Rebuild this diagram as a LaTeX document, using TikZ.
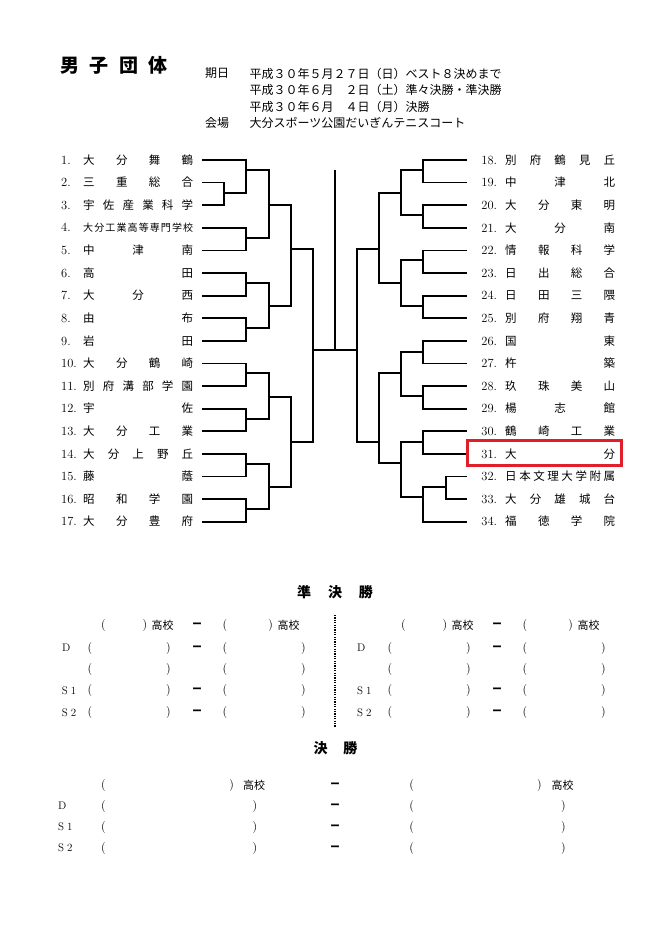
\documentclass[tikz,border=0pt]{standalone}
\usepackage{fontspec}
\newfontfamily\jp{Noto Sans CJK JP}
\definecolor{hlred}{RGB}{226,30,40}
\tikzset{
  team/.style={inner sep=0pt, font=\fontsize{11.5}{12}\selectfont},
  brk/.style={line width=1.8pt},
  cell/.style={inner sep=0pt, font=\fontsize{12}{12}\selectfont},
  lab/.style={inner sep=0pt, anchor=west, font=\fontsize{11}{12}\selectfont},
  kcell/.style={inner sep=0pt, font=\jp\fontsize{11}{12}\selectfont},
  dcell/.style={inner sep=0pt, font=\jp\bfseries\fontsize{9.5}{12}\selectfont},
  ttl/.style={inner sep=0pt, font=\jp\bfseries\fontsize{14}{14}\selectfont},
  hdr/.style={inner sep=0pt, anchor=west, font=\jp\fontsize{12}{12}\selectfont},
  hlbox/.style={draw=hlred, line width=3pt},
  dotline/.style={line width=2pt, dash pattern=on 1.2pt off 1.2pt},
}
\newcommand\numf{\fontsize{12.5}{12}\selectfont}
\newcommand\lteam[3]{\node[team,anchor=west] (t#1) at (61,#2) {\makebox[22pt][l]{\numf #1.}\makebox[110pt][s]{\jp #3}\kern8.7pt};}
\newcommand\rteam[3]{\node[team,anchor=west] (t#1) at (466.7,#2) {\kern14.5pt\makebox[23.8pt][l]{\numf #1.}\makebox[110pt][s]{\jp #3}};}
\newcommand\srow[4]{% name, offset, y, dash(1/0)
  \node[cell] (#1a) at (90+#2,#3) {(};
  \node[cell] (#1b) at (168.3+#2,#3) {)};
  \node[cell] (#1c) at (225+#2,#3) {(};
  \node[cell] (#1d) at (303.3+#2,#3) {)};
  \ifnum#4=1 \node[dcell] (#1m) at (197+#2,#3) {ー};\fi}
\newcommand\shead[2]{% name, offset
  \node[cell] (#1a) at (103.3+#2,625.5) {(};
  \node[cell] (#1b) at (145+#2,625.5) {)};
  \node[kcell] (#1k) at (162.5+#2,625.5) {高校};
  \node[dcell] (#1m) at (197+#2,625.5) {ー};
  \node[cell] (#1c) at (225+#2,625.5) {(};
  \node[cell] (#1d) at (270.7+#2,625.5) {)};
  \node[kcell] (#1l) at (288.5+#2,625.5) {高校};}
\newcommand\frow[2]{% name, y
  \node[cell] (#1a) at (103.3,#2) {(};
  \node[cell] (#1b) at (255,#2) {)};
  \node[dcell] (#1m) at (335,#2) {ー};
  \node[cell] (#1c) at (411.7,#2) {(};
  \node[cell] (#1d) at (563.3,#2) {)};}
\begin{document}
\begin{tikzpicture}[x=1pt,y=-1pt]
\useasboundingbox[fill=white] (0,0) rectangle (670,952);

% title and header
\node[inner sep=0pt, anchor=west, font=\jp\bfseries\fontsize{19}{19}\selectfont] (title) at (60,65) {男\hspace{10.5pt}子\hspace{10.5pt}団\hspace{10.5pt}体};
\node[hdr] (kijitsu) at (205,73.5) {期日};
\node[hdr] (d1) at (249.3,73.5) {平成３０年５月２７日（日）ベスト８決めまで};
\node[hdr] (d2) at (249.3,90) {平成３０年６月　２日（土）準々決勝・準決勝};
\node[hdr] (d3) at (249.3,106.5) {平成３０年６月　４日（月）決勝};
\node[hdr] (kaijo) at (205,123) {会場};
\node[hdr] (venue) at (249.3,123) {大分スポーツ公園だいぎんテニスコート};

% left teams
\lteam{1}{160}{大\hfill 分\hfill 舞\hfill 鶴}
\lteam{2}{182.6}{三\hfill 重\hfill 総\hfill 合}
\lteam{3}{205.2}{宇\hfill 佐\hfill 産\hfill 業\hfill 科\hfill 学}
\lteam{4}{227.8}{\fontsize{10}{12}\selectfont 大\hfill 分\hfill 工\hfill 業\hfill 高\hfill 等\hfill 専\hfill 門\hfill 学\hfill 校}
\lteam{5}{250.4}{中\hfill 津\hfill 南}
\lteam{6}{273}{高\hfill 田}
\lteam{7}{295.6}{大\hfill 分\hfill 西}
\lteam{8}{318.2}{由\hfill 布}
\lteam{9}{340.8}{岩\hfill 田}
\lteam{10}{363.4}{大\hfill 分\hfill 鶴\hfill 崎}
\lteam{11}{386}{別\hfill 府\hfill 溝\hfill 部\hfill 学\hfill 園}
\lteam{12}{408.6}{宇\hfill 佐}
\lteam{13}{431.2}{大\hfill 分\hfill 工\hfill 業}
\lteam{14}{453.8}{大\hfill 分\hfill 上\hfill 野\hfill 丘}
\lteam{15}{476.4}{藤\hfill 蔭}
\lteam{16}{499}{昭\hfill 和\hfill 学\hfill 園}
\lteam{17}{521.6}{大\hfill 分\hfill 豊\hfill 府}

% right teams
\rteam{18}{160}{別\hfill 府\hfill 鶴\hfill 見\hfill 丘}
\rteam{19}{182.6}{中\hfill 津\hfill 北}
\rteam{20}{205.2}{大\hfill 分\hfill 東\hfill 明}
\rteam{21}{227.8}{大\hfill 分\hfill 南}
\rteam{22}{250.4}{情\hfill 報\hfill 科\hfill 学}
\rteam{23}{273}{日\hfill 出\hfill 総\hfill 合}
\rteam{24}{295.6}{日\hfill 田\hfill 三\hfill 隈}
\rteam{25}{318.2}{別\hfill 府\hfill 翔\hfill 青}
\rteam{26}{340.8}{国\hfill 東}
\rteam{27}{363.4}{杵\hfill 築}
\rteam{28}{386}{玖\hfill 珠\hfill 美\hfill 山}
\rteam{29}{408.6}{楊\hfill 志\hfill 館}
\rteam{30}{431.2}{鶴\hfill 崎\hfill 工\hfill 業}
\rteam{31}{453.8}{大\hfill 分}
\rteam{32}{476.4}{日\hfill 本\hfill 文\hfill 理\hfill 大\hfill 学\hfill 附\hfill 属}
\rteam{33}{499}{大\hfill 分\hfill 雄\hfill 城\hfill 台}
\rteam{34}{521.6}{福\hfill 徳\hfill 学\hfill 院}

% left bracket junctions
\coordinate (J23) at (224,192.7);
\coordinate (J1) at (245.7,170);
\coordinate (J45) at (245.7,238.3);
\coordinate (Ja) at (269,205);
\coordinate (J67) at (245.7,283.3);
\coordinate (J89) at (245.7,328.3);
\coordinate (Jb) at (269,306);
\coordinate (JA) at (290.7,249.3);
\coordinate (J1011) at (245.7,373.3);
\coordinate (J1213) at (245.7,419);
\coordinate (Jc) at (269,396.7);
\coordinate (J1415) at (245.7,464.3);
\coordinate (J1617) at (245.7,509);
\coordinate (Jd) at (269,486.7);
\coordinate (JB) at (290.7,441.7);
\coordinate (JL) at (313.3,350);

\draw[brk] (t2.east) -| (J23) |- (t3.east);
\draw[brk] (t1.east) -| (J1) |- (J23);
\draw[brk] (t4.east) -| (J45) |- (t5.east);
\draw[brk] (J1) -| (Ja) |- (J45);
\draw[brk] (t6.east) -| (J67) |- (t7.east);
\draw[brk] (t8.east) -| (J89) |- (t9.east);
\draw[brk] (J67) -| (Jb) |- (J89);
\draw[brk] (Ja) -| (JA) |- (Jb);
\draw[brk] (t10.east) -| (J1011) |- (t11.east);
\draw[brk] (t12.east) -| (J1213) |- (t13.east);
\draw[brk] (J1011) -| (Jc) |- (J1213);
\draw[brk] (t14.east) -| (J1415) |- (t15.east);
\draw[brk] (t16.east) -| (J1617) |- (t17.east);
\draw[brk] (J1415) -| (Jd) |- (J1617);
\draw[brk] (Jc) -| (JB) |- (Jd);
\draw[brk] (JA) -| (JL) |- (JB);

% right bracket junctions
\coordinate (K1819) at (423.3,170);
\coordinate (K2021) at (423.3,215);
\coordinate (Ka) at (401,192.7);
\coordinate (K2223) at (423.3,260);
\coordinate (K2425) at (423.3,306);
\coordinate (Kb) at (401,283.3);
\coordinate (KA) at (379.3,249.3);
\coordinate (K2627) at (423.3,351.7);
\coordinate (K2829) at (423.3,396);
\coordinate (Kc) at (401,373.3);
\coordinate (K3031) at (423.3,441.7);
\coordinate (K3233) at (446,486.7);
\coordinate (K34) at (423.3,497.3);
\coordinate (Kd) at (401,463.3);
\coordinate (KB) at (379.3,441.7);
\coordinate (JR) at (356.7,350);

\draw[brk] (t18.west) -| (K1819) |- (t19.west);
\draw[brk] (t20.west) -| (K2021) |- (t21.west);
\draw[brk] (K1819) -| (Ka) |- (K2021);
\draw[brk] (t22.west) -| (K2223) |- (t23.west);
\draw[brk] (t24.west) -| (K2425) |- (t25.west);
\draw[brk] (K2223) -| (Kb) |- (K2425);
\draw[brk] (Ka) -| (KA) |- (Kb);
\draw[brk] (t26.west) -| (K2627) |- (t27.west);
\draw[brk] (t28.west) -| (K2829) |- (t29.west);
\draw[brk] (K2627) -| (Kc) |- (K2829);
\draw[brk] (t30.west) -| (K3031) |- (t31.west);
\draw[brk] (t32.west) -| (K3233) |- (t33.west);
\draw[brk] (K3233) -| (K34) |- (t34.west);
\draw[brk] (K3031) -| (Kd) |- (K34);
\draw[brk] (Kc) -| (KB) |- (Kd);
\draw[brk] (KA) -| (JR) |- (KB);

% centre
\coordinate (ctop) at (335,170);
\coordinate (cbot) at (335,350);
\draw[brk] (JL) -- (cbot) -- (JR);
\draw[brk] (cbot) -- (ctop);

% highlight
\draw[hlbox] (467.7,440) rectangle (621,465);

% semifinal
\node[ttl] (sftitle) at (335,591.7) {準\hspace{17pt}決\hspace{17pt}勝};
\coordinate (sdtop) at (335,615);
\coordinate (sdbot) at (335,726.7);
\draw[dotline] (sdtop) -- (sdbot);
\shead{sLh}{0}
\shead{sRh}{300}
\node[lab] (sLD) at (62,648) {D};
\node[lab] (sLS1) at (61.7,690.5) {S\hspace{3pt}1};
\node[lab] (sLS2) at (61.7,712.5) {S\hspace{3pt}2};
\node[lab] (sRD) at (357,648) {D};
\node[lab] (sRS1) at (357,690.5) {S\hspace{3pt}1};
\node[lab] (sRS2) at (357,712.5) {S\hspace{3pt}2};
\srow{sLa}{0}{648}{1}
\srow{sLb}{0}{669}{0}
\srow{sLc}{0}{690.5}{1}
\srow{sLd}{0}{712.5}{1}
\srow{sRa}{300}{648}{1}
\srow{sRb}{300}{669}{0}
\srow{sRc}{300}{690.5}{1}
\srow{sRd}{300}{712.5}{1}

% final
\node[ttl] (ftitle) at (335.5,748) {決\hspace{16pt}勝};
\node[cell] (fha) at (103.3,785) {(};
\node[cell] (fhb) at (231.7,785) {)};
\node[kcell] (fhk) at (254.2,785) {高校};
\node[dcell] (fhm) at (335,785) {ー};
\node[cell] (fhc) at (411.7,785) {(};
\node[cell] (fhd) at (539.3,785) {)};
\node[kcell] (fhl) at (562.5,785) {高校};
\node[lab] (fD) at (58,806) {D};
\node[lab] (fS1) at (58,827) {S\hspace{3pt}1};
\node[lab] (fS2) at (58,848) {S\hspace{3pt}2};
\frow{fa}{806}
\frow{fb}{827}
\frow{fc}{848}
\end{tikzpicture}
\end{document}
